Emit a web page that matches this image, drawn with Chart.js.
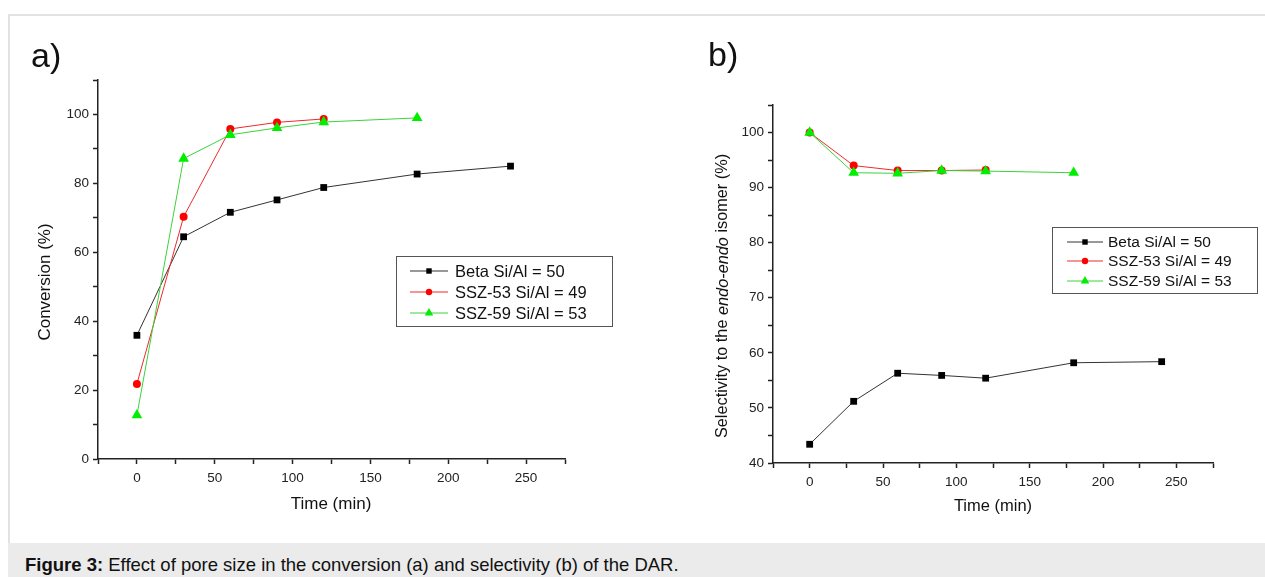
<!DOCTYPE html>
<html>
<head>
<meta charset="utf-8">
<script src="https://cdn.jsdelivr.net/npm/chart.js@4/dist/chart.umd.min.js"></script>
<style>
    html, body { margin: 0; padding: 0; background: #fff; overflow: hidden; }
    body { width: 1265px; height: 577px; position: relative; font-family: "Liberation Sans", Arial, sans-serif; }
    .frame { position: absolute; left: 8px; top: 14px; width: 1300px; height: 528px;
             border-top: 2px solid #e2e2e2; border-left: 2px solid #e2e2e2; }
    .caption { position: absolute; left: 8px; top: 543px; width: 1300px; height: 34px;
               background: #ebebeb; }
    .caption p { margin: 0; position: absolute; left: 17px; top: 11px; font-size: 18.5px; line-height: 21px;
                 color: #111; white-space: nowrap; }
    .box { position: absolute; top: 20px; height: 520px; }
    #boxA { left: 20px; width: 600px; }
    #boxB { left: 660px; width: 605px; }
</style>
</head>
<body>
<div class="frame"></div>
<div class="box" id="boxA"><canvas id="chartA"></canvas></div>
<div class="box" id="boxB"><canvas id="chartB"></canvas></div>
<div class="caption"><p><b>Figure 3:</b> Effect of pore size in the conversion (a) and selectivity (b) of the DAR.</p></div>

<script>
// ============================================
// DATOS
// ============================================

const seriesNames = ['Beta Si/Al = 50', 'SSZ-53 Si/Al = 49', 'SSZ-59 Si/Al = 53'];

// tiempos (min)
const timeBeta = [0, 30, 60, 90, 120, 180, 240];
const time53 = [0, 30, 60, 90, 120];
const time59 = [0, 30, 60, 90, 120, 180];

// a) conversion (%)
const convBeta = [35.9, 64.5, 71.6, 75.2, 78.8, 82.7, 85.0];
const conv53 = [21.8, 70.3, 95.8, 97.7, 98.7];
const conv59 = [12.7, 87.2, 94.1, 96.1, 97.8, 99.0];

// b) selectividad endo-endo (%)
const selBeta = [43.4, 51.2, 56.3, 55.9, 55.4, 58.2, 58.4];
const sel53 = [100, 94.0, 93.1, 93.1, 93.2];
const sel59 = [100, 92.7, 92.6, 93.1, 93.0, 92.7];

const FONT = '"Liberation Sans", Arial, sans-serif';

function pts(xs, ys) {
    return xs.map((x, i) => ({ x: x, y: ys[i] }));
}

function makeDatasets(a, b, c) {
    return [
        { label: seriesNames[0], data: pts(timeBeta, a), borderColor: '#333', backgroundColor: '#000',
          pointStyle: 'rect', pointRadius: 4.8, order: 3 },
        { label: seriesNames[1], data: pts(time53, b), borderColor: '#ee2a2a', backgroundColor: '#ff0000',
          pointStyle: 'circle', pointRadius: 4, order: 2 },
        { label: seriesNames[2], data: pts(time59, c), borderColor: '#3ad33a', backgroundColor: '#00ee00',
          pointStyle: 'triangle', pointRadius: 6.2, order: 1 }
    ].map(d => Object.assign(d, {
        borderWidth: 1, pointBorderWidth: 0, pointHoverRadius: d.pointRadius, tension: 0, fill: false
    }));
}

// ============================================
// PLUGIN: titulos, letra del panel y leyenda
// ============================================

const decorPlugin = {
    id: 'decor',
    afterDraw(chart, args, opts) {
        const ctx = chart.ctx;
        ctx.save();
        ctx.fillStyle = '#111';
        ctx.textBaseline = 'middle';

        // letra del panel
        ctx.font = '34px ' + FONT;
        ctx.textAlign = 'left';
        ctx.fillText(opts.letter.text, opts.letter.x, opts.letter.y);

        // titulo eje x
        ctx.font = opts.xTitle.size + 'px ' + FONT;
        ctx.textAlign = 'center';
        ctx.fillText(opts.xTitle.text, opts.xTitle.x, opts.xTitle.y);

        // titulo eje y (segmentos con estilos distintos)
        const segs = opts.yTitle.parts;
        let total = 0;
        segs.forEach(s => {
            ctx.font = (s.italic ? 'italic ' : '') + opts.yTitle.size + 'px ' + FONT;
            s.w = ctx.measureText(s.text).width;
            total += s.w;
        });
        ctx.translate(opts.yTitle.x, opts.yTitle.y);
        ctx.rotate(-Math.PI / 2);
        ctx.textAlign = 'left';
        let pos = -total / 2;
        segs.forEach(s => {
            ctx.font = (s.italic ? 'italic ' : '') + opts.yTitle.size + 'px ' + FONT;
            ctx.fillText(s.text, pos, 0);
            pos += s.w;
        });
        ctx.restore();

        // leyenda
        const L = opts.legend;
        ctx.save();
        ctx.strokeStyle = '#555';
        ctx.lineWidth = 1;
        ctx.strokeRect(L.x + 0.5, L.y + 0.5, L.w, L.h);
        chart.data.datasets.forEach((ds, i) => {
            const y = L.rows[i];
            ctx.strokeStyle = ds.borderColor;
            ctx.lineWidth = 1;
            ctx.beginPath();
            ctx.moveTo(L.lineX0, y);
            ctx.lineTo(L.lineX1, y);
            ctx.stroke();
            ctx.fillStyle = ds.backgroundColor;
            Chart.helpers.drawPoint(ctx, {
                pointStyle: ds.pointStyle, radius: ds.pointRadius * 0.8, rotation: 0, borderWidth: 0
            }, (L.lineX0 + L.lineX1) / 2, y);
            ctx.fillStyle = '#111';
            ctx.font = L.size + 'px ' + FONT;
            ctx.textAlign = 'left';
            ctx.textBaseline = 'middle';
            ctx.fillText(ds.label, L.textX, y + 1);
        });
        ctx.restore();
    }
};

// ============================================
// CONFIGURACION COMUN DE EJES
// ============================================

function axisX(height) {
    return {
        type: 'linear', min: -25, max: 275,
        afterFit: s => { s.height = height; },
        border: { display: true, color: '#222', width: 1.5 },
        grid: { drawOnChartArea: false, drawTicks: true, tickLength: 5, color: '#222', tickWidth: 1.5 },
        ticks: {
            stepSize: 25, autoSkip: false, maxRotation: 0, padding: 6, color: '#222',
            font: { family: FONT, size: 13.5 },
            callback: v => (v >= 0 && v <= 250 && v % 50 === 0) ? v : ''
        }
    };
}

function axisY(width, min, max, step, every, top) {
    return {
        type: 'linear', min: min, max: max,
        afterFit: s => { s.width = width; },
        border: { display: true, color: '#222', width: 1.5 },
        grid: { drawOnChartArea: false, drawTicks: true, tickLength: 5, color: '#222', tickWidth: 1.5 },
        ticks: {
            stepSize: step, autoSkip: false, padding: 4, color: '#222',
            font: { family: FONT, size: 13.5 },
            callback: v => (v % every === 0 && v <= top) ? v : ''
        }
    };
}

function baseOptions(padding) {
    return {
        responsive: true,
        maintainAspectRatio: false,
        animation: false,
        layout: { padding: padding },
        plugins: { legend: { display: false }, tooltip: { enabled: false } }
    };
}

// ============================================
// GRAFICO A: CONVERSION
// ============================================

const optA = baseOptions({ top: 60, right: 55, left: 0, bottom: 0 });
optA.scales = { x: axisX(81), y: axisY(78, 0, 110, 10, 20, 100) };
optA.plugins.decor = {
    letter: { text: 'a)', x: 11, y: 38 },
    xTitle: { text: 'Time (min)', x: 311, y: 484, size: 17 },
    yTitle: { x: 25, y: 262, size: 17, parts: [{ text: 'Conversion (%)' }] },
    legend: { x: 376, y: 236, w: 216, h: 70, rows: [251, 272, 293], lineX0: 390, lineX1: 428, textX: 435, size: 16.5 }
};

new Chart(document.getElementById('chartA').getContext('2d'), {
    type: 'line',
    data: { datasets: makeDatasets(convBeta, conv53, conv59) },
    options: optA,
    plugins: [decorPlugin]
});

// ============================================
// GRAFICO B: SELECTIVIDAD
// ============================================

const optB = baseOptions({ top: 85, right: 52, left: 0, bottom: 0 });
optB.scales = { x: axisX(77), y: axisY(113, 40, 105, 5, 10, 100) };
optB.plugins.decor = {
    letter: { text: 'b)', x: 48, y: 37 },
    xTitle: { text: 'Time (min)', x: 333, y: 486, size: 16.5 },
    yTitle: { x: 63, y: 276, size: 16.3, parts: [
        { text: 'Selectivity to the ' }, { text: 'endo-endo', italic: true }, { text: ' isomer (%)' }
    ] },
    legend: { x: 392, y: 207, w: 205, h: 66, rows: [222, 241, 261], lineX0: 407, lineX1: 443, textX: 448, size: 15.5 }
};

new Chart(document.getElementById('chartB').getContext('2d'), {
    type: 'line',
    data: { datasets: makeDatasets(selBeta, sel53, sel59) },
    options: optB,
    plugins: [decorPlugin]
});
</script>
</body>
</html>
